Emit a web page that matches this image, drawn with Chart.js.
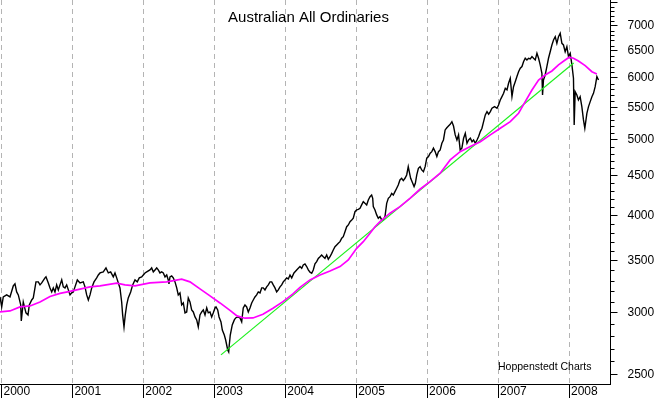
<!DOCTYPE html>
<html>
<head>
<meta charset="utf-8">
<script src="https://cdn.jsdelivr.net/npm/chart.js@4.4.1/dist/chart.umd.min.js"></script>
<style>
  html, body { margin: 0; padding: 0; background: #fff; }
  canvas { display: block; }
</style>
</head>
<body>
<canvas id="chart" width="658" height="398"></canvas>
<script>
// --- Data (decimal years / index points) ---
const ordsYears = [
    1999.979, 2000.003, 2000.025, 2000.073, 2000.120, 2000.166, 2000.190, 2000.214, 2000.237, 2000.271,
    2000.279, 2000.307, 2000.345, 2000.374, 2000.392, 2000.426, 2000.448, 2000.472, 2000.486, 2000.519,
    2000.543, 2000.567, 2000.613, 2000.627, 2000.660, 2000.684, 2000.708, 2000.730, 2000.754, 2000.778,
    2000.801, 2000.825, 2000.849, 2000.871, 2000.895, 2000.919, 2000.966, 2000.990, 2001.012, 2001.036,
    2001.069, 2001.107, 2001.153, 2001.177, 2001.201, 2001.224, 2001.248, 2001.272, 2001.304, 2001.342,
    2001.365, 2001.389, 2001.435, 2001.473, 2001.506, 2001.539, 2001.576, 2001.600, 2001.624, 2001.647,
    2001.670, 2001.694, 2001.708, 2001.727, 2001.745, 2001.765, 2001.787, 2001.821, 2001.849, 2001.882,
    2001.914, 2001.942, 2001.976, 2001.999,
    2002.023, 2002.047, 2002.093, 2002.117, 2002.140, 2002.164, 2002.188, 2002.210, 2002.234, 2002.258,
    2002.281, 2002.305, 2002.329, 2002.351, 2002.361, 2002.375, 2002.399, 2002.422, 2002.446, 2002.470,
    2002.492, 2002.516, 2002.540, 2002.563, 2002.587, 2002.611, 2002.633, 2002.657, 2002.681, 2002.704,
    2002.728, 2002.752, 2002.774, 2002.798, 2002.822, 2002.845, 2002.869, 2002.893, 2002.915, 2002.939,
    2002.963, 2002.986, 2003.010, 2003.024, 2003.048, 2003.067, 2003.094, 2003.113, 2003.141, 2003.160,
    2003.189, 2003.203, 2003.211, 2003.225, 2003.253, 2003.282, 2003.301, 2003.330, 2003.362, 2003.386,
    2003.408, 2003.432, 2003.456, 2003.479, 2003.503, 2003.527, 2003.549, 2003.573, 2003.597, 2003.620,
    2003.644, 2003.668, 2003.690, 2003.714, 2003.738, 2003.761, 2003.785, 2003.809, 2003.831, 2003.855,
    2003.879, 2003.902, 2003.926, 2003.950, 2003.972, 2003.996, 2004.020, 2004.043, 2004.067,
    2004.091, 2004.123, 2004.161, 2004.184, 2004.208, 2004.232, 2004.254, 2004.278, 2004.302, 2004.325,
    2004.349, 2004.373, 2004.395, 2004.419, 2004.443, 2004.466, 2004.490, 2004.513, 2004.536, 2004.560,
    2004.584, 2004.607, 2004.631, 2004.655, 2004.677, 2004.701, 2004.725, 2004.748, 2004.772, 2004.796,
    2004.818, 2004.842, 2004.866, 2004.889, 2004.913, 2004.937, 2004.959, 2004.983, 2005.007, 2005.030,
    2005.054, 2005.077, 2005.100, 2005.124, 2005.148, 2005.171, 2005.195, 2005.218, 2005.233, 2005.241,
    2005.265, 2005.289, 2005.312, 2005.336, 2005.360, 2005.382, 2005.406, 2005.430, 2005.453, 2005.477,
    2005.500, 2005.523, 2005.547, 2005.571, 2005.593, 2005.617, 2005.641, 2005.664, 2005.688, 2005.712,
    2005.734, 2005.748, 2005.768, 2005.797, 2005.816, 2005.834, 2005.854, 2005.877, 2005.901, 2005.924,
    2005.948, 2005.972, 2005.995, 2006.019, 2006.043, 2006.066, 2006.089, 2006.113, 2006.137, 2006.160,
    2006.184, 2006.208, 2006.230, 2006.254,
    2006.278, 2006.301, 2006.325, 2006.349, 2006.372, 2006.396, 2006.420, 2006.443, 2006.466, 2006.490,
    2006.514, 2006.538, 2006.562, 2006.585, 2006.609, 2006.633, 2006.655, 2006.679, 2006.703, 2006.726,
    2006.750, 2006.773, 2006.796, 2006.820, 2006.844, 2006.867, 2006.891, 2006.914, 2006.951, 2006.985,
    2007.007, 2007.031, 2007.055, 2007.078, 2007.102, 2007.126, 2007.148, 2007.172, 2007.196, 2007.218,
    2007.242, 2007.266, 2007.289, 2007.313, 2007.337, 2007.359, 2007.383, 2007.407, 2007.430, 2007.454,
    2007.478, 2007.500, 2007.524, 2007.548, 2007.571, 2007.594, 2007.618, 2007.627, 2007.640, 2007.664,
    2007.688, 2007.711, 2007.735, 2007.759, 2007.782, 2007.806, 2007.829, 2007.852, 2007.876, 2007.900,
    2007.922, 2007.946, 2007.970, 2007.993, 2008.017, 2008.041, 2008.063, 2008.073, 2008.087, 2008.111,
    2008.133, 2008.157, 2008.181, 2008.204, 2008.223, 2008.252, 2008.275, 2008.299, 2008.323, 2008.345,
    2008.369, 2008.393, 2008.416
];
const ordsClose = [
    3144, 3053, 3144, 3163, 3144, 3248, 3268, 3191, 3163, 3071,
    2929, 3098, 3000, 2982, 3071, 3116, 3135, 3229, 3287, 3287,
    3258, 3277, 3326, 3336, 3277, 3229, 3191, 3229, 3191, 3258,
    3210, 3258, 3306, 3239, 3229, 3258, 3163, 3182, 3191, 3239,
    3306, 3277, 3287, 3239, 3163, 3116, 3163, 3229, 3287, 3326,
    3355, 3375, 3385, 3425, 3375, 3385, 3336, 3375, 3326, 3277,
    3229, 3098, 2982, 2878, 2982, 3071, 3135, 3191, 3258, 3306,
    3287, 3326, 3336, 3355,
    3375, 3385, 3405, 3425, 3385, 3405, 3425, 3405, 3375, 3385,
    3375, 3336, 3355, 3306, 3268, 3336, 3345, 3326, 3287, 3229,
    3163, 3182, 3071, 3089, 3000, 3008, 3135, 3098, 3026, 3008,
    2964, 2938, 2878, 2982, 3008, 3026, 2982, 3044, 3000, 3008,
    2964, 3000, 3044, 3053, 3026, 2964, 2921, 2852, 2810, 2769,
    2689, 2673, 2729, 2810, 2895, 2938, 2955, 2964, 2955, 2921,
    3044, 3071, 3053, 3008, 3044, 3089, 3116, 3144, 3163, 3191,
    3182, 3229, 3229, 3210, 3239, 3258, 3287, 3287, 3258, 3229,
    3191, 3210, 3239, 3258, 3287, 3306, 3326, 3316, 3355,
    3326, 3375, 3405, 3422, 3439, 3422, 3456, 3466, 3439, 3405,
    3382, 3372, 3405, 3466, 3489, 3523, 3540, 3558, 3540, 3523,
    3558, 3513, 3540, 3575, 3611, 3646, 3665, 3684, 3701, 3739,
    3756, 3812, 3868, 3888, 3926, 3946, 3966, 4043, 4064, 4072,
    4084, 4125, 4164, 4144, 4125, 4185, 4226, 4247, 4206, 4104,
    4064, 4005, 3966, 3985, 3946, 3946, 3985, 4144, 4206, 4226,
    4268, 4247, 4289, 4333, 4375, 4440, 4462, 4431, 4462, 4506,
    4618, 4550, 4462, 4397, 4354, 4397, 4506, 4596, 4618, 4573,
    4550, 4618, 4734, 4757, 4804, 4827, 4876, 4827, 4757, 4827,
    4851, 4948, 4996, 5146,
    5180, 5206, 5232, 5272, 5206, 5071, 4996, 5071, 4851, 4876,
    5021, 5096, 4948, 4996, 5021, 4971, 4996, 4948, 4996, 5046,
    5121, 5172, 5274, 5379, 5431, 5390, 5431, 5486, 5512, 5486,
    5540, 5622, 5677, 5733, 5819, 5790, 5905, 5993, 5677, 5847,
    5933, 6023, 6111, 6173, 6204, 6294, 6358, 6326, 6358, 6345,
    6389, 6358, 6326, 6453, 6358, 6234, 6082, 5705, 5963, 6052,
    6204, 6358, 6482, 6612, 6710, 6776, 6644, 6776, 6844, 6644,
    6612, 6482, 6579, 6389, 6453, 6234, 5993, 5222, 5761, 5705,
    5622, 5677, 5512, 5300, 5172, 5405, 5512, 5594, 5677, 5733,
    5847, 6023, 5963
];

// moving average (magenta)
const avgYears = [
    1999.979, 2000.120, 2000.261, 2000.402, 2000.543, 2000.684, 2000.825, 2000.966, 2001.107, 2001.248,
    2001.389, 2001.624, 2001.741, 2001.882, 2002.093, 2002.329, 2002.540, 2002.657, 2002.798, 2002.939,
    2003.080, 2003.221, 2003.320, 2003.432, 2003.545, 2003.686, 2003.827, 2003.968, 2004.109, 2004.208,
    2004.349, 2004.490, 2004.631, 2004.772, 2004.889, 2005.007, 2005.100, 2005.195, 2005.265, 2005.336,
    2005.477, 2005.617, 2005.758, 2005.899, 2006.040, 2006.184, 2006.325, 2006.466, 2006.609, 2006.750,
    2006.891, 2007.031, 2007.172, 2007.289, 2007.383, 2007.478, 2007.571, 2007.664, 2007.759, 2007.852,
    2007.946, 2008.003, 2008.063, 2008.133, 2008.228, 2008.323, 2008.393
];
const avgValues = [
    3008, 3017, 3053, 3062, 3098, 3149, 3177, 3196, 3217, 3239,
    3248, 3274, 3258, 3248, 3277, 3287, 3313, 3287, 3220, 3154,
    3089, 3022, 2973, 2953, 2955, 2987, 3041, 3101, 3172, 3234,
    3306, 3355, 3395, 3439, 3506, 3629, 3701, 3793, 3868, 3926,
    4025, 4104, 4206, 4320, 4418, 4530, 4710, 4827, 4900, 4971,
    5071, 5172, 5274, 5405, 5594, 5790, 5963, 6052, 6124, 6234,
    6326, 6377, 6358, 6307, 6221, 6111, 6071
];

// trend line (green)
const trendYears = [2003.094, 2008.066];
const trendValues = [2650, 6270];

// axis ticks
const yearTicks = [2000, 2001, 2002, 2003, 2004, 2005, 2006, 2007, 2008];
const priceTicks = [2500, 3000, 3500, 4000, 4500, 5000, 5500, 6000, 6500, 7000, 7500];
const unlabelledPrices = [7500];

const FONT = '"Liberation Sans", Arial, sans-serif';

function toPoints(xs, ys) { return xs.map((x, i) => ({ x: x, y: ys[i] })); }

// --- Minor price ticks, title and credit ---
const decorations = {
    id: 'decorations',
    afterDraw(chart) {
        const ctx = chart.ctx;
        const y = chart.scales.y;
        ctx.save();
        ctx.strokeStyle = '#000';
        ctx.lineWidth = 1;
        ctx.beginPath();
        for (let v = 2500; v <= 7500; v += 100) {
            if (v % 500 === 0) continue;
            const py = Math.round(y.getPixelForValue(v)) + 0.5;
            ctx.moveTo(y.left, py);
            ctx.lineTo(y.left + 4, py);
        }
        ctx.stroke();

        ctx.fillStyle = '#000';
        ctx.textBaseline = 'alphabetic';
        ctx.font = '15px ' + FONT;
        ctx.textAlign = 'center';
        ctx.fillText('Australian All Ordinaries', 308.5, 21.5);
        ctx.font = '10.5px ' + FONT;
        ctx.textAlign = 'left';
        ctx.fillText('Hoppenstedt Charts', 498, 369.5);
        ctx.restore();
    }
};

new Chart(document.getElementById('chart'), {
    type: 'line',
    data: {
        datasets: [
            { label: 'Average', data: toPoints(avgYears, avgValues), borderColor: '#ff00ff', borderWidth: 1.7, pointRadius: 0, tension: 0 },
            { label: 'Trend', data: toPoints(trendYears, trendValues), borderColor: '#1ef01e', borderWidth: 1.2, pointRadius: 0, tension: 0 },
            { label: 'All Ordinaries', data: toPoints(ordsYears, ordsClose), borderColor: '#000', borderWidth: 1.4, pointRadius: 0, tension: 0 }
        ]
    },
    options: {
        responsive: false,
        animation: false,
        events: [],
        layout: { padding: 0 },
        plugins: { legend: { display: false }, tooltip: { enabled: false } },
        scales: {
            x: {
                type: 'linear',
                min: 1999.979,
                max: 2008.585,
                afterBuildTicks: s => { s.ticks = yearTicks.map(v => ({ value: v })); },
                afterFit: s => { s.height = 14; s.paddingLeft = 0; s.paddingRight = 0; },
                grid: { color: '#b4b4b4', lineWidth: 1, drawTicks: true, tickLength: 14, tickColor: '#000', tickWidth: 1 },
                border: { display: true, color: '#000', width: 1, dash: [5, 4] },
                ticks: {
                    color: '#000', font: { family: FONT, size: 12 }, padding: -14,
                    align: 'start', labelOffset: 2, maxRotation: 0, autoSkip: false,
                    callback: v => String(v)
                }
            },
            y: {
                type: 'logarithmic',
                position: 'right',
                min: 2432,
                max: 7550,
                afterBuildTicks: s => { s.ticks = priceTicks.map(v => ({ value: v })); },
                afterFit: s => { s.width = 47.5; s.paddingTop = 0; s.paddingBottom = 0; },
                grid: { drawOnChartArea: false, drawTicks: true, tickLength: 7, tickColor: '#000', tickWidth: 1 },
                border: { display: true, color: '#000', width: 1 },
                ticks: {
                    color: '#000', font: { family: FONT, size: 12 }, padding: 10, autoSkip: false,
                    callback: v => unlabelledPrices.includes(v) ? '' : String(v)
                }
            }
        }
    },
    plugins: [decorations]
});
</script>
</body>
</html>
